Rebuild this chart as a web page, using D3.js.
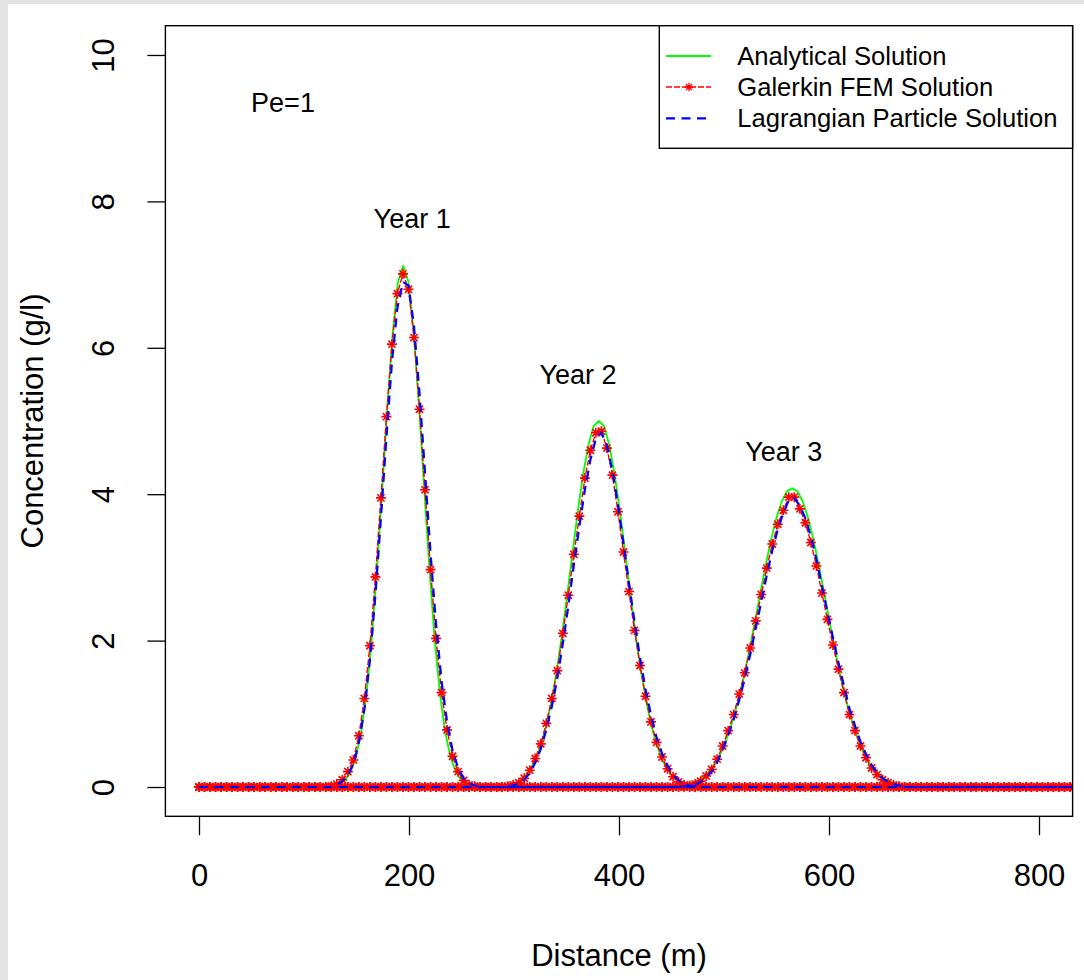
<!DOCTYPE html>
<html>
<head>
<meta charset="utf-8">
<script src="https://d3js.org/d3.v7.min.js"></script>
<style>
  body { margin: 0; background: #FFFFFF; }
  svg { display: block; font-family: "Liberation Sans", Arial, sans-serif; }
</style>
</head>
<body>
<svg></svg>
<script>
//--Data
//FEM / particle nodes, metres apart, and the end of the model domain
const gridStep = 5.25;
const gridEnd = 840;

const xTicks = [0, 200, 400, 600, 800];
const yTicks = [0, 2, 4, 6, 8, 10];

const legendLabels = ["Analytical Solution", "Galerkin FEM Solution", "Lagrangian Particle Solution"];
const notes = ["Pe=1", "Year 1", "Year 2", "Year 3"];
const noteDistance = [80, 203, 361, 557];
const noteConc = [9.35, 7.76, 5.64, 4.58];

//Analytical solution: first distance of each window, then one value every 5 m
const analyticalStart = [124.5, 285.8, 450];
const analyticalStep = 5;
const analyticalYear1 = [0.01, 0.02, 0.04, 0.10, 0.21, 0.41, 0.75, 1.27, 2.01, 2.97, 4.07, 5.21, 6.21, 6.90, 7.12,
  6.90, 6.21, 5.21, 4.07, 2.97, 2.01, 1.27, 0.75, 0.41, 0.21, 0.10, 0.04, 0.02, 0.01];
const analyticalYear2 = [0.01, 0.02, 0.03, 0.05, 0.09, 0.15, 0.25, 0.38, 0.58, 0.84, 1.18, 1.60, 2.09, 2.64, 3.21,
  3.77, 4.27, 4.67, 4.93, 5.00, 4.93, 4.67, 4.27, 3.77, 3.21, 2.64, 2.09, 1.60, 1.18, 0.84, 0.58, 0.38, 0.25,
  0.15, 0.09, 0.05, 0.03, 0.02, 0.01];
const analyticalYear3 = [0.01, 0.01, 0.02, 0.04, 0.06, 0.09, 0.14, 0.20, 0.29, 0.41, 0.56, 0.76, 0.99, 1.26, 1.58,
  1.93, 2.30, 2.68, 3.05, 3.39, 3.68, 3.90, 4.04, 4.08, 4.04, 3.90, 3.68, 3.39, 3.05, 2.68, 2.30, 1.93, 1.58,
  1.26, 0.99, 0.76, 0.56, 0.41, 0.29, 0.20, 0.14, 0.09, 0.06, 0.04, 0.02, 0.01, 0.01];

//Numerical solutions: node index of the first value of each window (zero elsewhere)
const nodeStart = [23, 55, 87];
const femYear1 = [0.00, 0.01, 0.04, 0.10, 0.21, 0.37, 0.70, 1.21, 1.93, 2.87, 3.95, 5.06, 6.05, 6.74, 7.01,
  6.80, 6.14, 5.16, 4.06, 2.97, 2.03, 1.29, 0.78, 0.42, 0.21, 0.09, 0.03, 0.01, 0.00];
const femYear2 = [0.00, 0.01, 0.03, 0.06, 0.12, 0.23, 0.39, 0.59, 0.87, 1.21, 1.59, 2.10, 2.62, 3.18, 3.70,
  4.22, 4.60, 4.84, 4.86, 4.63, 4.26, 3.76, 3.21, 2.67, 2.14, 1.66, 1.24, 0.89, 0.61, 0.41, 0.25, 0.14, 0.07,
  0.03, 0.01, 0.00];
const femYear3 = [0.00, 0.01, 0.02, 0.04, 0.08, 0.15, 0.24, 0.38, 0.56, 0.77, 0.99, 1.27, 1.56, 1.90, 2.27,
  2.63, 2.99, 3.32, 3.59, 3.78, 3.96, 3.96, 3.80, 3.61, 3.34, 3.02, 2.65, 2.29, 1.94, 1.61, 1.29, 0.99, 0.77,
  0.56, 0.40, 0.26, 0.17, 0.10, 0.06, 0.03, 0.01, 0.00];
const particleYear1 = [0.00, 0.00, 0.03, 0.08, 0.17, 0.31, 0.60, 1.06, 1.73, 2.62, 3.67, 4.77, 5.80, 6.55, 6.90,
  6.85, 6.30, 5.38, 4.30, 3.20, 2.23, 1.45, 0.89, 0.50, 0.26, 0.12, 0.05, 0.02, 0.00];
const particleYear2 = [0.00, 0.01, 0.02, 0.05, 0.10, 0.19, 0.33, 0.52, 0.78, 1.10, 1.48, 1.96, 2.47, 3.03, 3.56,
  4.06, 4.47, 4.76, 4.84, 4.66, 4.32, 3.86, 3.33, 2.79, 2.26, 1.77, 1.34, 0.98, 0.68, 0.46, 0.29, 0.17, 0.09,
  0.04, 0.02, 0.01];
const particleYear3 = [0.00, 0.01, 0.02, 0.03, 0.07, 0.13, 0.21, 0.34, 0.51, 0.71, 0.92, 1.19, 1.48, 1.81, 2.17,
  2.53, 2.89, 3.23, 3.52, 3.74, 3.92, 3.95, 3.84, 3.67, 3.42, 3.11, 2.75, 2.39, 2.04, 1.70, 1.38, 1.07, 0.84,
  0.62, 0.45, 0.30, 0.20, 0.12, 0.07, 0.04, 0.02, 0.01];


//--Shared info
var canvas = {
  width: 1084,
  height: 980,
  font_axis: 31,
  font_note: 27,
  font_legend: 25.6,
  green: "#00FF00",
  red: "#FF0000",
  blue: "#0000FF",
  scale_x: d3.scaleLinear().domain([-32, 832]).range([165.4, 1072.6]),
  scale_y: d3.scaleLinear().domain([-0.4, 10.4]).range([816.3, 25.7])
};
const sx = canvas.scale_x, sy = canvas.scale_y;
const [boxLeft, boxRight] = sx.range();
const [boxBottom, boxTop] = sy.range();

//Turn a window of values into a whole-domain series
function analyticalSeries(start, values) {
  let pts = values.map((v, k) => [start + k * analyticalStep, v]);
  return [[0, 0]].concat(pts, [[gridEnd, 0]]);
}
function nodeSeries(start, values) {
  return d3.range(0, Math.floor(gridEnd / gridStep) + 1).map(i => {
    let k = i - start;
    return [i * gridStep, (k >= 0 && k < values.length) ? values[k] : 0];
  });
}

const analytical = [analyticalYear1, analyticalYear2, analyticalYear3].map((v, j) => analyticalSeries(analyticalStart[j], v));
const fem = [femYear1, femYear2, femYear3].map((v, j) => nodeSeries(nodeStart[j], v));
const particle = [particleYear1, particleYear2, particleYear3].map((v, j) => nodeSeries(nodeStart[j], v));


//--Setup root element
let root = d3
  .select("svg")
  .attr("width", canvas.width)
  .attr("height", canvas.height)
  .style("background-color", "#E3E3E3");
root
  .append("rect")
  .attr("x", 8)
  .attr("y", 4)
  .attr("width", canvas.width - 8)
  .attr("height", canvas.height - 4)
  .attr("fill", "#FFFFFF");
root
  .append("clipPath")
  .attr("id", "plot-clip")
  .append("rect")
  .attr("x", boxLeft)
  .attr("y", boxTop)
  .attr("width", boxRight - boxLeft)
  .attr("height", boxBottom - boxTop);


//--Axes
let xAxis = root
  .append("g")
  .attr("transform", "translate(0," + boxBottom + ")")
  .call(d3.axisBottom(sx).tickValues(xTicks).tickSize(19).tickPadding(29).tickSizeOuter(0));
xAxis.select(".domain").remove();
xAxis.selectAll("line").attr("stroke", "#000000").attr("stroke-width", 1.3);
xAxis.selectAll("text")
  .attr("fill", "#000000")
  .style("font-size", canvas.font_axis + "px")
  .style("font-family", "Liberation Sans, Arial, sans-serif");

let yAxis = root
  .append("g")
  .attr("transform", "translate(" + boxLeft + ",0)")
  .call(d3.axisLeft(sy).tickValues(yTicks).tickSize(18).tickSizeOuter(0));
yAxis.select(".domain").remove();
yAxis.selectAll("line").attr("stroke", "#000000").attr("stroke-width", 1.3);
yAxis.selectAll("text")
  .attr("x", 0)
  .attr("y", -62.4)
  .attr("dy", "0.35em")
  .attr("text-anchor", "middle")
  .attr("transform", "rotate(-90)")
  .attr("fill", "#000000")
  .style("font-size", canvas.font_axis + "px")
  .style("font-family", "Liberation Sans, Arial, sans-serif");

root
  .append("text")
  .attr("x", (boxLeft + boxRight) / 2)
  .attr("y", 955)
  .attr("dy", "0.35em")
  .attr("text-anchor", "middle")
  .style("font-size", canvas.font_axis + "px")
  .text("Distance (m)");
root
  .append("text")
  .attr("transform", "translate(32," + (boxTop + boxBottom) / 2 + ")rotate(-90)")
  .attr("dy", "0.35em")
  .attr("text-anchor", "middle")
  .style("font-size", canvas.font_axis + "px")
  .text("Concentration (g/l)");


//--Curves
let plot = root.append("g").attr("clip-path", "url(#plot-clip)");
let line = d3.line().x(d => sx(d[0])).y(d => sy(d[1]));
const star = (r) => {
  let a = r * 0.72;
  return "M" + (-r) + ",0H" + r + "M0," + (-r) + "V" + r +
    "M" + (-a) + "," + (-a) + "L" + a + "," + a + "M" + (-a) + "," + a + "L" + a + "," + (-a);
};

plot.selectAll(".analytical")
  .data(analytical)
  .enter()
  .append("path")
  .classed("analytical", true)
  .attr("d", line)
  .attr("fill", "none")
  .attr("stroke", canvas.green)
  .attr("stroke-width", 1.8)
  .attr("stroke-linejoin", "round");

plot.selectAll(".fem")
  .data(fem)
  .enter()
  .append("path")
  .classed("fem", true)
  .attr("d", line)
  .attr("fill", "none")
  .attr("stroke", canvas.red)
  .attr("stroke-width", 1.4)
  .attr("stroke-dasharray", "6,2");

plot.selectAll(".fem-points")
  .data(fem)
  .enter()
  .append("g")
  .classed("fem-points", true)
  .selectAll("path")
  .data(d => d)
  .enter()
  .append("path")
  .attr("transform", d => "translate(" + sx(d[0]) + "," + sy(d[1]) + ")")
  .attr("d", star(5))
  .attr("fill", "none")
  .attr("stroke", canvas.red)
  .attr("stroke-width", 1.6);

plot.selectAll(".particle")
  .data(particle)
  .enter()
  .append("path")
  .classed("particle", true)
  .attr("d", line)
  .attr("fill", "none")
  .attr("stroke", canvas.blue)
  .attr("stroke-width", 2.2)
  .attr("stroke-dasharray", "9,6.5");


//--Plot box
root
  .append("rect")
  .attr("x", boxLeft)
  .attr("y", boxTop)
  .attr("width", boxRight - boxLeft)
  .attr("height", boxBottom - boxTop)
  .attr("fill", "none")
  .attr("stroke", "#000000")
  .attr("stroke-width", 1.4);


//--Notes
root.selectAll(".note")
  .data(notes)
  .enter()
  .append("text")
  .classed("note", true)
  .attr("x", (d, i) => sx(noteDistance[i]))
  .attr("y", (d, i) => sy(noteConc[i]))
  .attr("dy", "0.35em")
  .attr("text-anchor", "middle")
  .style("font-size", canvas.font_note + "px")
  .text(d => d);


//--Legend
let legend = root.append("g").classed("legend", true);
legend
  .append("rect")
  .attr("x", 659.3)
  .attr("y", boxTop)
  .attr("width", boxRight - 659.3)
  .attr("height", 148.3 - boxTop)
  .attr("fill", "#FFFFFF")
  .attr("stroke", "#000000")
  .attr("stroke-width", 1.4);
const rowY = [56, 87, 118.3];
const rowStyle = [
  {color: canvas.green, width: 1.8, dash: null},
  {color: canvas.red, width: 1.3, dash: "6,2"},
  {color: canvas.blue, width: 2.2, dash: "9,6.5"}
];
legendLabels.forEach((label, i) => {
  legend.append("line")
    .attr("x1", 666)
    .attr("x2", 711)
    .attr("y1", rowY[i])
    .attr("y2", rowY[i])
    .attr("stroke", rowStyle[i].color)
    .attr("stroke-width", rowStyle[i].width)
    .attr("stroke-dasharray", rowStyle[i].dash);
  if (i === 1) {
    legend.append("path")
      .attr("transform", "translate(689," + rowY[i] + ")")
      .attr("d", star(4.2))
      .attr("fill", "none")
      .attr("stroke", canvas.red)
      .attr("stroke-width", 1.3);
  }
  legend.append("text")
    .attr("x", 737.3)
    .attr("y", rowY[i])
    .attr("dy", "0.35em")
    .style("font-size", canvas.font_legend + "px")
    .text(label);
});
</script>
</body>
</html>
